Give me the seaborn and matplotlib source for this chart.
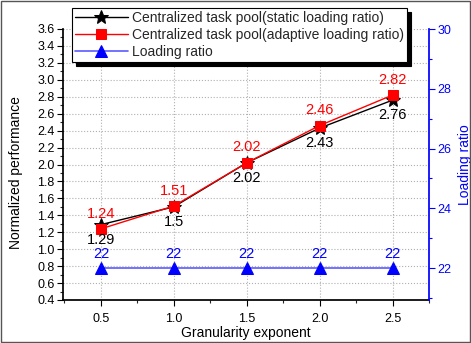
import matplotlib
matplotlib.use("Agg")
import matplotlib.pyplot as plt
import seaborn as sns
import pandas as pd
from matplotlib.ticker import MultipleLocator

sns.set_theme(style="white")
plt.rcParams['font.family'] = ['Liberation Sans', 'DejaVu Sans']

granularity = [0.5, 1.0, 1.5, 2.0, 2.5]
static_perf = [1.29, 1.50, 2.02, 2.43, 2.76]
adaptive_perf = [1.24, 1.51, 2.02, 2.46, 2.82]
loading_ratio = [22, 22, 22, 22, 22]
static_labels = ["1.29", "1.5", "2.02", "2.43", "2.76"]
adaptive_labels = ["1.24", "1.51", "2.02", "2.46", "2.82"]
ratio_labels = ["22", "22", "22", "22", "22"]

df = pd.DataFrame({"x": granularity, "static": static_perf,
                   "adaptive": adaptive_perf, "ratio": loading_ratio})

fig = plt.figure(figsize=(4.71, 3.43), dpi=100)
ax = fig.add_axes([63/471, 43/343, (429-63)/471, (300-29)/343])
ax2 = ax.twinx()

sns.lineplot(data=df, x="x", y="static", ax=ax, color="black", marker="*",
             markersize=10, markeredgecolor="black", linewidth=1,
             label="Centralized task pool(static loading ratio)", legend=False)
sns.lineplot(data=df, x="x", y="adaptive", ax=ax, color="red", marker="s",
             markersize=6.5, markeredgecolor="red", linewidth=1,
             label="Centralized task pool(adaptive loading ratio)", legend=False)
sns.lineplot(data=df, x="x", y="ratio", ax=ax2, color="#5a5aff", marker="^",
             markersize=8, markerfacecolor="blue", markeredgecolor="blue",
             linewidth=1.2, label="Loading ratio", legend=False)

ax.set_xlim(0.24, 2.75)
ax.set_ylim(0.4, 3.6)
ax2.set_ylim(20.93, 30.0)

ax.xaxis.set_major_locator(MultipleLocator(0.5))
ax.xaxis.set_minor_locator(MultipleLocator(0.25))
ax.yaxis.set_major_locator(MultipleLocator(0.2))
ax.yaxis.set_minor_locator(MultipleLocator(0.1))
ax2.yaxis.set_major_locator(MultipleLocator(2))
ax2.yaxis.set_minor_locator(MultipleLocator(1))

ax.grid(True, which="major", linestyle=":", color="#b0b0b0", linewidth=0.8)
ax.set_axisbelow(True)

for a in (ax, ax2):
    a.spines["top"].set_visible(False)
ax.spines["left"].set_color("black")
ax.spines["bottom"].set_color("black")
ax.spines["right"].set_visible(False)
ax2.spines["left"].set_visible(False)
ax2.spines["bottom"].set_visible(False)
ax2.spines["right"].set_color("blue")

ax.tick_params(axis="both", which="major", direction="out", length=4, width=0.8,
               labelsize=9, colors="black", left=True, bottom=True, pad=2)
ax.tick_params(axis="x", which="major", pad=5)
ax.tick_params(axis="both", which="minor", direction="out", length=2, width=0.8,
               left=True, bottom=True)
ax2.tick_params(axis="y", which="major", direction="out", length=4, width=0.8,
                labelsize=9, colors="blue", right=True, pad=2)
ax2.tick_params(axis="y", which="minor", direction="out", length=2, width=0.8,
                colors="blue", right=True)

ax.set_xlabel("Granularity exponent", fontsize=10, labelpad=1, color="black")
ax.set_ylabel("Normalized performance", fontsize=10, labelpad=4, color="black")
ax.yaxis.set_label_coords(-0.11, 0.47)
ax2.set_ylabel("Loading ratio", fontsize=10, labelpad=5, color="blue")

for x, y, t in zip(granularity, adaptive_perf, adaptive_labels):
    ax.annotate(t, (x, y), xytext=(0, 6), textcoords="offset points",
                ha="center", va="bottom", color="red", fontsize=10.5)
for x, y, t in zip(granularity, static_perf, static_labels):
    ax.annotate(t, (x, y), xytext=(0, -6), textcoords="offset points",
                ha="center", va="top", color="black", fontsize=10.5)
for x, y, t in zip(granularity, loading_ratio, ratio_labels):
    ax2.annotate(t, (x, y), xytext=(0, 5), textcoords="offset points",
                 ha="center", va="bottom", color="blue", fontsize=10.5)

h1, l1 = ax.get_legend_handles_labels()
h2, l2 = ax2.get_legend_handles_labels()
leg = ax2.legend(h1 + h2, l1 + l2, loc="upper left", bbox_to_anchor=(72/471, 1 - 8/343),
                 bbox_transform=fig.transFigure, fontsize=10, frameon=True,
                 fancybox=False, shadow={"color": "black", "alpha": 1, "ox": 3, "oy": -3},
                 borderpad=0.2, labelspacing=0.22, handlelength=3.8,
                 handletextpad=0.3, borderaxespad=0)
leg.get_frame().set_edgecolor("black")
leg.get_frame().set_linewidth(0.8)

fig.patches.append(plt.Rectangle((0.002, 0.002), 0.996, 0.996, transform=fig.transFigure,
                                 fill=False, edgecolor="#555555", linewidth=1))

fig.savefig("out.png", dpi=100)
